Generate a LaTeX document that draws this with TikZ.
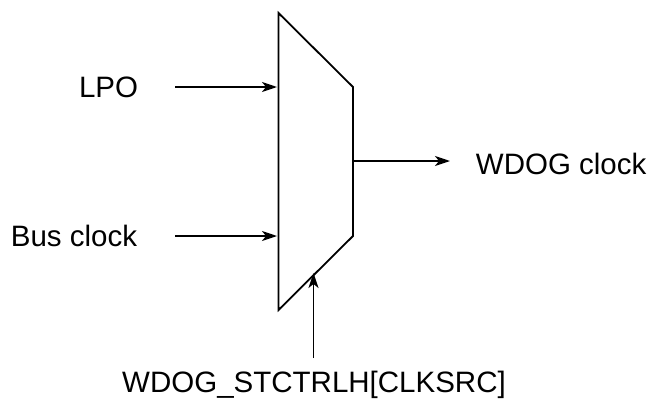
\documentclass[tikz,border=0pt]{standalone}
\usepackage{fontspec}
\setmainfont{Liberation Sans}
\usetikzlibrary{positioning,arrows.meta}
\tikzset{
  lbl/.style={inner sep=0pt,font=\fontsize{29.5}{34}\selectfont},
  sig/.style={-{Stealth[length=15pt,width=10pt,inset=4pt]},line width=1.7pt},
}
\begin{document}
\begin{tikzpicture}[x=1pt,y=-1pt,line width=1.8pt]
  \useasboundingbox (0,0) rectangle (651,399);
  % mux
  \coordinate (muxa) at(278.5,13);
  \coordinate (muxb) at(353,87);
  \coordinate (muxc) at(353,236);
  \coordinate (muxd) at(278.5,310);
  \draw [line join=miter](muxa) -- (muxb) -- (muxc) -- (muxd) -- cycle;
  % inputs
  \node [lbl,anchor=east] at(139,87)(lpo){LPO};
  \node [lbl,anchor=east] at(138,236)(bus){Bus clock};
  \coordinate (lpostart) at(175,87);
  \coordinate (busstart) at(175,236);
  \coordinate (lpoin) at(277,87);
  \coordinate (busin) at(277,236);
  \draw [sig](lpostart) -- (lpoin);
  \draw [sig](busstart) -- (busin);
  % output
  \node [lbl,anchor=west] at(475,164)(wdog){WDOG clock};
  \coordinate (muxout) at(353,161);
  \coordinate (outend) at(450,161);
  \draw [sig](muxout) -- (outend);
  % select
  \node [lbl] at(314,385)(reg){WDOG\_STCTRLH[CLKSRC]};
  \coordinate (selstart) at(313.5,358);
  \coordinate (muxsel) at(313.5,273);
  \draw [sig](selstart) -- (muxsel);
\end{tikzpicture}
\end{document}
